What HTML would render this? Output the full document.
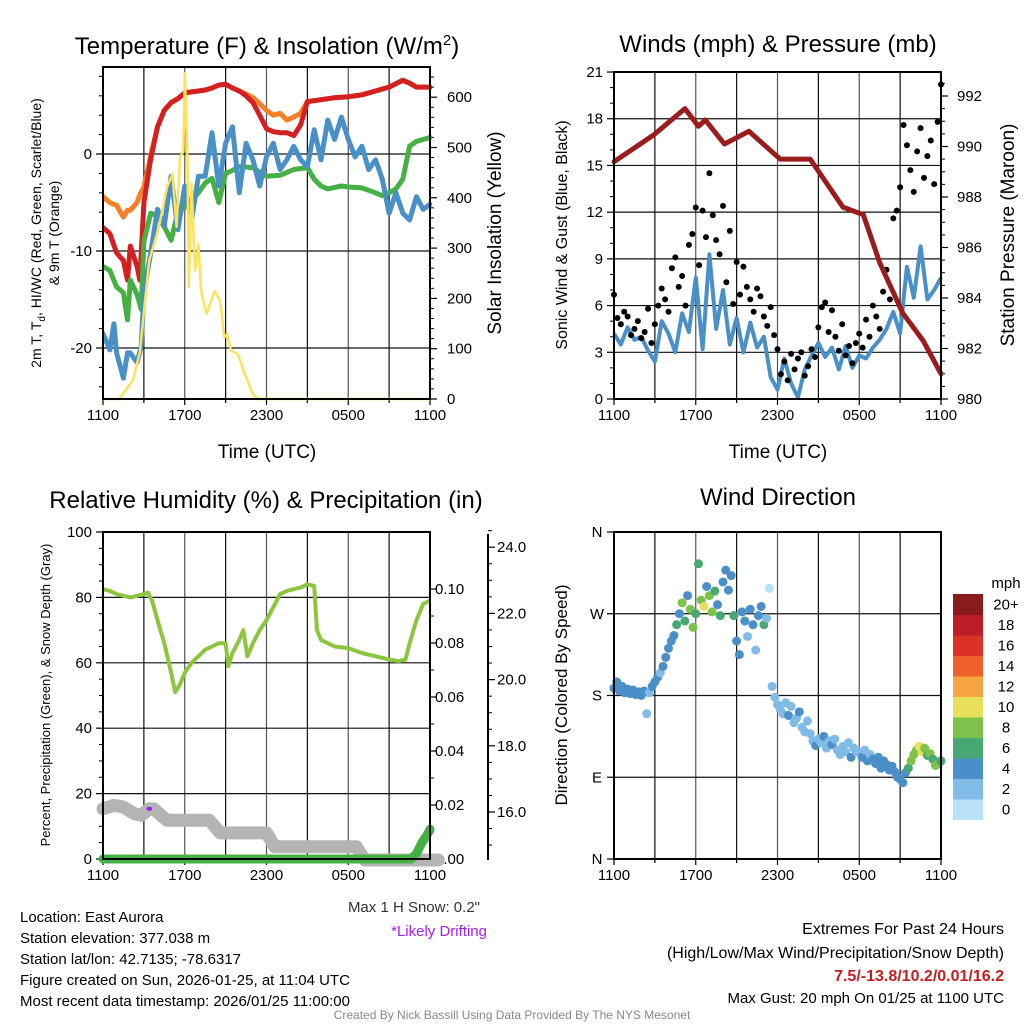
<!DOCTYPE html>
<html><head><meta charset="utf-8">
<style>
html,body{margin:0;padding:0;background:#fff;}
svg{display:block;font-family:"Liberation Sans",Arial,sans-serif;}
</style></head>
<body>
<svg id="chart" width="1024" height="1024" viewBox="0 0 1024 1024" xmlns="http://www.w3.org/2000/svg">
<rect width="1024" height="1024" fill="#fff"/>
<text x="267" y="54" font-size="24" text-anchor="middle">Temperature (F) &amp; Insolation (W/m<tspan dy="-9" font-size="15">2</tspan><tspan dy="9">)</tspan></text>
<text x="778" y="52" font-size="24" text-anchor="middle">Winds (mph) &amp; Pressure (mb)</text>
<text x="266" y="508" font-size="24" text-anchor="middle">Relative Humidity (%) &amp; Precipitation (in)</text>
<text x="778" y="505" font-size="24" text-anchor="middle">Wind Direction</text>

<text x="267" y="458" font-size="19" text-anchor="middle">Time (UTC)</text>
<text x="778" y="458" font-size="19" text-anchor="middle">Time (UTC)</text>

<text transform="translate(41,233) rotate(-90)" font-size="14" text-anchor="middle">2m T, T<tspan dy="4" font-size="10">d</tspan><tspan dy="-4">, HI/WC (Red, Green, Scarlet/Blue)</tspan></text>
<text transform="translate(59,233) rotate(-90)" font-size="14" text-anchor="middle">&amp; 9m T (Orange)</text>
<text transform="translate(501,233) rotate(-90)" font-size="19" text-anchor="middle">Solar Insolation (Yellow)</text>
<text transform="translate(567,235) rotate(-90)" font-size="16" text-anchor="middle">Sonic Wind &amp; Gust (Blue, Black)</text>
<text transform="translate(1014,235) rotate(-90)" font-size="19" text-anchor="middle">Station Pressure (Maroon)</text>
<text transform="translate(50,695) rotate(-90)" font-size="13" text-anchor="middle">Percent, Precipitation (Green), &amp; Snow Depth (Gray)</text>
<text transform="translate(567,695) rotate(-90)" font-size="17" text-anchor="middle">Direction (Colored By Speed)</text>

<g font-size="15">
<text x="20" y="922">Location: East Aurora</text>
<text x="20" y="943">Station elevation: 377.038 m</text>
<text x="20" y="964">Station lat/lon: 42.7135; -78.6317</text>
<text x="20" y="985">Figure created on Sun, 2026-01-25, at 11:04 UTC</text>
<text x="20" y="1006">Most recent data timestamp: 2026/01/25 11:00:00</text>
</g>
<text x="480" y="912" font-size="15" text-anchor="end" fill="#333">Max 1 H Snow: 0.2"</text>
<text x="487" y="936" font-size="15" text-anchor="end" fill="#a020f0">*Likely Drifting</text>
<g font-size="16" text-anchor="end">
<text x="1004" y="934">Extremes For Past 24 Hours</text>
<text x="1004" y="958">(High/Low/Max Wind/Precipitation/Snow Depth)</text>
<text x="1004" y="981" fill="#c41e1e" font-weight="bold">7.5/-13.8/10.2/0.01/16.2</text>
<text x="1004" y="1003" font-size="15">Max Gust: 20 mph On 01/25 at 1100 UTC</text>
</g>
<text x="512" y="1019" font-size="12" text-anchor="middle" fill="#888">Created By Nick Bassill Using Data Provided By The NYS Mesonet</text>
</svg>
<script>
// ---------- DATA ----------
const timeLabels = ["1100","1700","2300","0500","1100"];
const tempTickLabels = [-20,-10,0];
const solarTickLabels = [0,100,200,300,400,500,600];
const windTickLabels = [0,3,6,9,12,15,18,21];
const pressureTickLabels = [980,982,984,986,988,990,992];
const rhTickLabels = [0,20,40,60,80,100];
const precipTickLabels = [0,0.02,0.04,0.06,0.08,0.10];
const snowTickLabels = [16,18,20,22,24];
const dirTickLabels = ["N","E","S","W","N"];
const dirTickValues = [0,90,180,270,360];
const speedBinLabels = ["0","2","4","6","8","10","12","14","16","18","20+"];
const speedBinColors = ["#b7e2f7","#80bce6","#4a8fc7","#48a873","#7cc24b","#e8e05a","#f6a540","#f0622b","#dc3226","#bb1e24","#8b1a1a"];

const redHours = [0,0.5,1,1.5,1.8,2,2.5,2.7,3,3.5,4,4.5,5,5.5,6,6.5,7,7.5,8,8.5,9,9.5,10,10.5,11,11.5,12,12.5,13,13.5,14,14.5,15,16,17,18,19,20,21,22,22.5,23,24];
const redTemp = [-7.6,-8.2,-10.2,-11,-13,-9.5,-11.6,-13,-5,-0.5,2.8,4.5,5.3,5.7,6.3,6.4,6.5,6.6,6.8,7.1,7.2,6.8,6.5,6.0,5.3,4.0,2.6,2.3,2.2,2.2,1.9,3.0,5.4,5.6,5.8,5.9,6.1,6.5,6.9,7.6,7.3,6.9,6.9];
const orangeTemp = [-4.4,-5.0,-5.3,-6.5,-5.8,-5.8,-5.0,-4.2,-3.4,-0.2,2.8,4.5,5.3,5.7,6.3,6.4,6.5,6.6,6.8,7.1,7.2,6.8,6.5,6.2,5.8,5.2,4.5,4.0,4.2,3.5,3.8,4.2,5.4,5.6,5.8,5.9,6.1,6.5,6.9,7.6,7.3,6.9,6.9];
const greenHours = [0,0.5,1,1.5,1.8,2,2.5,2.8,3,3.5,4,4.5,5,5.5,6,6.5,7,7.5,8,8.5,9,9.5,10,11,12,13,14,15,15.5,16,16.5,17.5,18,19,20,20.5,21,21.5,22,22.5,23,24];
const dewTemp = [-11.6,-12,-13.7,-14.3,-17.1,-13,-14.5,-16,-9,-6.1,-6.4,-7.5,-8.9,-6,-5.5,-4.8,-4,-3,-2.5,-5,-2,-1.7,-1.3,-1.4,-2.3,-2.2,-1.6,-1.4,-2.6,-3.3,-3.6,-3.3,-3.4,-3.5,-4.0,-4.3,-4.0,-3.6,-2.6,0.8,1.3,1.7];
const blueHours = [0,0.5,0.8,1,1.5,1.8,2,2.5,2.8,3,3.5,4,4.5,5,5.5,6,6.5,7,7.5,8,8.5,9,9.5,10,10.5,11,11.5,12,12.5,13,13.5,14,14.5,15,15.5,16,16.5,17,17.5,18,18.5,19,19.5,20,20.5,21,21.5,22,22.5,23,23.5,24];
const windChill = [-18.5,-20.2,-17.5,-20.5,-23.1,-20.5,-20.5,-21.5,-19.8,-14.3,-10.2,-5.7,-7.4,-2.3,-7.8,-3.3,-6.8,-2.3,-2.3,2.2,-3.3,1.1,2.8,-4,1.1,-0.6,-3.3,-0.3,1.1,-1.6,-0.6,0.8,-0.6,-1.3,2.5,-0.6,3.5,1.5,3.8,1.5,-0.3,0.8,-1.6,-0.6,-2.6,-6.1,-4,-6.1,-6.8,-4.4,-5.7,-5.2];
const solarHours = [0,1.2,2.2,2.7,3,3.4,4.1,4.7,5.1,5.4,5.65,5.9,6.0,6.2,6.3,6.5,6.75,7,7.2,7.6,8.2,8.6,8.9,9.1,9.4,9.9,10.4,11,11.4,24];
const solarValues = [0,0,38,92,173,276,342,421,448,342,481,494,648,474,222,428,255,308,215,169,215,195,122,129,96,89,50,10,0,0];

const windInterval = 0.5;
const windSpeed = [4.2,3.5,4.6,3.8,4.0,3.1,2.4,5.0,4.2,3.0,5.5,4.3,7.8,3.2,9.3,4.5,7.0,3.5,5.2,3.0,4.9,3.3,4.0,1.4,0.6,2.6,1.0,0.1,1.9,2.8,3.6,2.7,3.3,1.9,3.4,2.0,2.8,2.6,3.3,3.8,4.5,5.6,4.2,8.5,6.5,9.8,6.4,7.0,7.8];
const gustInterval = 0.25;
const gustSpeed = [6.7,5.2,4.8,5.6,5.3,4.1,4.5,5.0,3.9,4.3,5.8,3.6,
4.8,6.0,7.1,6.4,5.6,8.4,9.1,7.2,7.9,6.0,9.9,10.6,
12.3,8.6,12.1,10.4,14.5,11.8,10.2,9.3,12.4,7.5,10.8,6.1,
8.8,6.7,8.5,7.2,6.4,5.6,7.1,6.6,5.3,4.7,5.9,4.1,
3.2,1.6,2.4,1.2,2.9,1.9,2.6,3.0,1.5,2.1,3.2,2.7,
4.6,5.9,6.2,4.3,5.7,4.0,3.1,4.8,2.8,3.4,2.3,3.6,
4.2,3.3,5.1,4.0,6.0,5.3,4.5,6.9,8.3,6.4,11.6,12.1,
13.6,17.6,16.3,14.7,13.3,15.9,17.4,14.2,15.6,16.6,13.8,17.8,20.2];
const pressureHours = [0,2.9,5.2,6.2,6.7,8.1,9.9,12.2,14.4,16.8,18.3,19.5,21.2,22.7,24];
const pressureValues = [989.4,990.45,991.5,990.8,991.05,990.1,990.6,989.5,989.5,987.6,987.3,985.4,983.4,982.3,981.0];

const rhHours = [0,0.5,1,1.5,2,2.5,3,3.3,3.6,4,4.5,5,5.3,5.6,6,6.5,7,7.5,8,8.5,9,9.2,9.5,10,10.3,10.6,11,11.5,12,12.5,13,13.5,14,14.5,15,15.5,15.7,16,17,18,19,20,21,21.7,22.2,22.5,23,23.5,24];
const rhValues = [82.5,82,81,80.5,80,80.5,81,81.5,79,73,66,57,51,53,57,60,62,64,65,66,66,59,63,67,70,62,66,70,73,77,81,82,82.5,83,84,83.5,70,67,65,64.5,63,62,61,60.5,61,66,73,78,79];
const snowHours = [0,0.8,1.5,2.3,2.8,3.4,3.7,4.7,7.8,8.6,12.0,12.6,18.6,19.2,24.6];
const snowDepth = [16.1,16.2,16.15,15.95,15.9,16.1,16.1,15.75,15.75,15.37,15.37,14.95,14.95,14.55,14.55];
const driftHours = [3.4];
const driftDepth = [16.1];
const precipHours = [0,22.6,23,23.4,23.8,24];
const precipValues = [0,0,0.002,0.006,0.009,0.011];

const dirInterval = 0.2;
const dirValues = [188,195,185,190,183,187,182,186,181,184,180,185,160,183,190,
195,200,205,212,222,232,240,246,
258,270,282,262,290,275,255,
270,325,285,278,300,290,272,295,280,268,
305,318,296,312,268,240,225,
272,262,245,275,258,230,268,278,258,265,
298,190,
178,170,165,160,172,158,168,150,155,162,145,140,152,
138,130,125,132,128,135,122,130,126,132,120,115,124,118,128,112,122,118,
118,112,120,108,115,110,105,112,100,108,104,98,102,96,90,88,84,95,
100,108,115,120,124,118,122,114,116,110,103,105,108];
const dirSpeeds = [4,4.5,4,3.5,4.2,4,3.8,4.3,3.6,4,3.9,4.2,2,2.5,3.9,
4,3.8,2,4.1,4.3,4,4.5,4.2,
5.5,4.3,7.8,6.5,4.2,8.3,7.0,
6.4,6.5,8.2,10.5,4.3,8.4,7.5,6.1,4.2,6.7,
4.2,4.4,3.8,4.5,6.5,4.1,4.2,
4.3,4.0,2.3,4.1,4.2,2.5,4.4,4.0,6.2,2.6,
0.5,1,
1,2.5,2.7,2,1.5,3,2.2,2.6,1.2,3,2.4,1.5,2.8,
2.5,2.8,3,2.2,2.6,3.1,2.4,2.9,3,2.3,2.7,2.5,1.5,2.8,2.6,3,2.4,2.9,
2.6,3.2,2.5,3.6,2.8,3.9,3.2,4.1,3.5,3.3,4.3,4.0,4.2,4.5,4.0,3.8,4.1,4.3,
6.5,7.2,8.3,8.5,10.5,10.1,8.2,6.6,7.8,6.3,8.4,8.1,6.9];

// ---------- HELPERS ----------
const NS = "http://www.w3.org/2000/svg";
const svg = document.getElementById('chart');
function mk(tag, attrs, parent){
  const e = document.createElementNS(NS, tag);
  for (const k in attrs) e.setAttribute(k, attrs[k]);
  (parent || svg).appendChild(e);
  return e;
}
function txt(x, y, s, size, anchor, parent){
  const t = mk('text', {x:x, y:y, 'font-size':size, 'text-anchor':anchor}, parent);
  t.textContent = s;
  return t;
}
function pathD(xs, ys){
  let d = '';
  for (let i = 0; i < xs.length; i++) d += (i ? 'L' : 'M') + xs[i].toFixed(1) + ' ' + ys[i].toFixed(1);
  return d;
}

const P1 = {x0:103, x1:430, y0:67, y1:399};
const P2 = {x0:614, x1:941, y0:72, y1:399};
const P3 = {x0:103, x1:430, y0:532, y1:859};
const P4 = {x0:614, x1:941, y0:532, y1:859};
function xs(P, t){ return P.x0 + t * (P.x1 - P.x0) / 24; }
const yTemp = v => 154 - 9.7 * v;
const ySolar = w => 399 - 0.503 * w;
const yWind = v => 399 - 15.57 * v;
const yPres = p => 399 - 25.25 * (p - 980);
const yRH = v => 859 - 3.27 * v;
const yPrecip = v => 859 - 2700 * v;
const ySnow = s => 812 - 33.1 * (s - 16);
const yDir = d => 859 - d * 327 / 360;

function frame(P, name){
  const g = mk('g', {});
  
  
  for (let h = 3; h < 24; h += 3){
    const x = xs(P, h);
    mk('line', {x1:x, y1:P.y0, x2:x, y2:P.y1, stroke: (h % 6 === 0) ? '#555' : '#111', 'stroke-width':1.2}, g);
  }
  for (let i = 0; i < timeLabels.length; i++){
    const x = xs(P, i * 6);
    mk('line', {x1:x, y1:P.y1, x2:x, y2:P.y1 + 6, stroke:'#000', 'stroke-width':1.2}, g);
    txt(x, P.y1 + 21, timeLabels[i], 15, 'middle', g);
  }
  for (let h = 3; h < 24; h += 6){
    const x = xs(P, h);
    mk('line', {x1:x, y1:P.y1, x2:x, y2:P.y1 + 4, stroke:'#000', 'stroke-width':1.2}, g);
  }
  return g;
}
function border(P){
  mk('rect', {x:P.x0, y:P.y0, width:P.x1 - P.x0, height:P.y1 - P.y0, fill:'none', stroke:'#000', 'stroke-width':2});
}
function hgrid(P, y, g){ mk('line', {x1:P.x0, y1:y, x2:P.x1, y2:y, stroke:'#111', 'stroke-width':1.2}, g); }

// ---------- PANEL 1: Temperature ----------
const g1 = frame(P1, 'temperature-panel');
tempTickLabels.forEach(v => {
  hgrid(P1, yTemp(v), g1);
  mk('line', {x1:P1.x0 - 7, y1:yTemp(v), x2:P1.x0, y2:yTemp(v), stroke:'#000', 'stroke-width':1.2}, g1);
  txt(P1.x0 - 11, yTemp(v) + 5, String(v), 15, 'end', g1);
});
for (let v = -24; v <= 8; v += 2){
  if (v % 10 === 0) continue;
  mk('line', {x1:P1.x0 - 4, y1:yTemp(v), x2:P1.x0, y2:yTemp(v), stroke:'#000', 'stroke-width':1}, g1);
}
solarTickLabels.forEach(v => {
  mk('line', {x1:P1.x1, y1:ySolar(v), x2:P1.x1 + 7, y2:ySolar(v), stroke:'#000', 'stroke-width':1.2}, g1);
  txt(P1.x1 + 17, ySolar(v) + 5, String(v), 15, 'start', g1);
});
for (let v = 20; v <= 640; v += 20){
  if (v % 100 === 0) continue;
  mk('line', {x1:P1.x1, y1:ySolar(v), x2:P1.x1 + 4, y2:ySolar(v), stroke:'#000', 'stroke-width':1}, g1);
}
const clip1 = mk('clipPath', {id:'clip1'});
mk('rect', {x:P1.x0, y:P1.y0 - 6, width:P1.x1 - P1.x0 + 2, height:P1.y1 - P1.y0 + 8}, clip1);
const s1 = mk('g', {'clip-path':'url(#clip1)'});
const orangeLine = mk('path', {d:pathD(redHours.map(t=>xs(P1,t)), orangeTemp.map(yTemp)), fill:'none', stroke:'#f58025', 'stroke-width':5, 'stroke-linejoin':'round', 'stroke-linecap':'round'}, s1);


const redLine = mk('path', {d:pathD(redHours.map(t=>xs(P1,t)), redTemp.map(yTemp)), fill:'none', stroke:'#d42020', 'stroke-width':5, 'stroke-linejoin':'round', 'stroke-linecap':'round'}, s1);


const greenLine = mk('path', {d:pathD(greenHours.map(t=>xs(P1,t)), dewTemp.map(yTemp)), fill:'none', stroke:'#45b043', 'stroke-width':5, 'stroke-linejoin':'round', 'stroke-linecap':'round'}, s1);


const blueLine = mk('path', {d:pathD(blueHours.map(t=>xs(P1,t)), windChill.map(yTemp)), fill:'none', stroke:'#4a90c8', 'stroke-width':5, 'stroke-linejoin':'round', 'stroke-linecap':'round'}, s1);


const solarLine = mk('path', {d:pathD(solarHours.map(t=>xs(P1,t)), solarValues.map(ySolar)), fill:'none', stroke:'#fde25a', 'stroke-width':2.5, 'stroke-linejoin':'round'}, s1);


border(P1);

// ---------- PANEL 2: Winds ----------
const g2 = frame(P2, 'winds-panel');
windTickLabels.forEach(v => {
  if (v > 0 && v < 21) hgrid(P2, yWind(v), g2);
  mk('line', {x1:P2.x0 - 7, y1:yWind(v), x2:P2.x0, y2:yWind(v), stroke:'#000', 'stroke-width':1.2}, g2);
  txt(P2.x0 - 11, yWind(v) + 5, String(v), 15, 'end', g2);
});
for (let v = 1; v < 21; v++){
  if (v % 3 === 0) continue;
  mk('line', {x1:P2.x0 - 4, y1:yWind(v), x2:P2.x0, y2:yWind(v), stroke:'#000', 'stroke-width':1}, g2);
}
pressureTickLabels.forEach(v => {
  mk('line', {x1:P2.x1, y1:yPres(v), x2:P2.x1 + 7, y2:yPres(v), stroke:'#000', 'stroke-width':1.2}, g2);
  txt(P2.x1 + 16, yPres(v) + 5, String(v), 15, 'start', g2);
});
for (let v = 980.5; v < 993; v += 0.5){
  if (v % 2 === 0) continue;
  mk('line', {x1:P2.x1, y1:yPres(v), x2:P2.x1 + 4, y2:yPres(v), stroke:'#000', 'stroke-width':1}, g2);
}
const windLine = mk('path', {d:pathD(windSpeed.map((v,i)=>xs(P2,i*windInterval)), windSpeed.map(yWind)), fill:'none', stroke:'#4a90c8', 'stroke-width':4, 'stroke-linejoin':'round'});


const gustG = mk('g', {fill:'#000'});


gustSpeed.forEach((v, i) => {
  const c = mk('circle', {cx:xs(P2, i * gustInterval), cy:yWind(v), r:3}, gustG);
  
  
});
const presLine = mk('path', {d:pathD(pressureHours.map(t=>xs(P2,t)), pressureValues.map(yPres)), fill:'none', stroke:'#9b1c1c', 'stroke-width':5, 'stroke-linejoin':'round', 'stroke-linecap':'round'});


border(P2);

// ---------- PANEL 3: RH & Precip ----------
const g3 = frame(P3, 'humidity-panel');
rhTickLabels.forEach(v => {
  if (v > 0 && v < 100) hgrid(P3, yRH(v), g3);
  mk('line', {x1:P3.x0 - 7, y1:yRH(v), x2:P3.x0, y2:yRH(v), stroke:'#000', 'stroke-width':1.2}, g3);
  txt(P3.x0 - 11, yRH(v) + 5, String(v), 15, 'end', g3);
});
for (let v = 5; v < 100; v += 5){
  if (v % 20 === 0) continue;
  mk('line', {x1:P3.x0 - 4, y1:yRH(v), x2:P3.x0, y2:yRH(v), stroke:'#000', 'stroke-width':1}, g3);
}
precipTickLabels.forEach(v => {
  mk('line', {x1:P3.x1, y1:yPrecip(v), x2:P3.x1 + 7, y2:yPrecip(v), stroke:'#000', 'stroke-width':1.2}, g3);
  txt(P3.x1 + 5, yPrecip(v) + 5, v.toFixed(2), 15, 'start', g3);
});
for (let v = 0.01; v < 0.11; v += 0.02){
  mk('line', {x1:P3.x1, y1:yPrecip(v), x2:P3.x1 + 4, y2:yPrecip(v), stroke:'#000', 'stroke-width':1}, g3);
}
mk('line', {x1:488, y1:534, x2:488, y2:860, stroke:'#000', 'stroke-width':2}, g3);
snowTickLabels.forEach(v => {
  mk('line', {x1:488, y1:ySnow(v), x2:495, y2:ySnow(v), stroke:'#000', 'stroke-width':1.2}, g3);
  txt(497, ySnow(v) + 5, v.toFixed(1), 15, 'start', g3);
});
for (let v = 15; v <= 24.5; v += 0.5){
  if (v % 2 === 0) continue;
  mk('line', {x1:488, y1:ySnow(v), x2:492, y2:ySnow(v), stroke:'#000', 'stroke-width':1}, g3);
}
const snowLine = mk('path', {d:pathD(snowHours.map(t=>xs(P3,t)), snowDepth.map(ySnow)), fill:'none', stroke:'#b4b4b4', 'stroke-width':13, 'stroke-linejoin':'round', 'stroke-linecap':'round'});


driftHours.forEach((t, i) => {
  const d = mk('ellipse', {cx:xs(P3,t), cy:ySnow(driftDepth[i]), rx:3, ry:2, fill:'#a020f0'});
  
  
});
const precipLine = mk('path', {d:pathD(precipHours.map(t=>xs(P3,t)), precipValues.map(yPrecip)), fill:'none', stroke:'#45b043', 'stroke-width':9, 'stroke-linejoin':'round', 'stroke-linecap':'round'});


const rhLine = mk('path', {d:pathD(rhHours.map(t=>xs(P3,t)), rhValues.map(yRH)), fill:'none', stroke:'#8cc63f', 'stroke-width':4, 'stroke-linejoin':'round'});


border(P3);

// ---------- PANEL 4: Wind Direction ----------
const g4 = frame(P4, 'wind-direction-panel');
dirTickValues.forEach((v, i) => {
  if (v > 0 && v < 360) hgrid(P4, yDir(v), g4);
  mk('line', {x1:P4.x0 - 7, y1:yDir(v), x2:P4.x0, y2:yDir(v), stroke:'#000', 'stroke-width':1.2}, g4);
  txt(P4.x0 - 17, yDir(v) + 5, dirTickLabels[i], 15, 'middle', g4);
});
const dirG = mk('g', {});


function speedColor(v){ return speedBinColors[Math.min(10, Math.max(0, Math.floor((v + 1) / 2)))]; }
dirValues.forEach((d, i) => {
  const c = mk('circle', {cx:xs(P4, i * dirInterval), cy:yDir(d), r:4.5, fill:speedColor(dirSpeeds[i])}, dirG);
  
  
});
border(P4);
const cb = mk('g', {});


txt(1006, 588, 'mph', 15, 'middle', cb);
const binH = 20.5;
for (let i = 0; i < speedBinColors.length; i++){
  const yTop = 594 + (10 - i) * binH;
  mk('rect', {x:953, y:yTop, width:30, height:binH + 0.5, fill:speedBinColors[i]}, cb);
  txt(1006, yTop + binH / 2 + 5, speedBinLabels[i], 15, 'middle', cb);
}
</script>
</body></html>
